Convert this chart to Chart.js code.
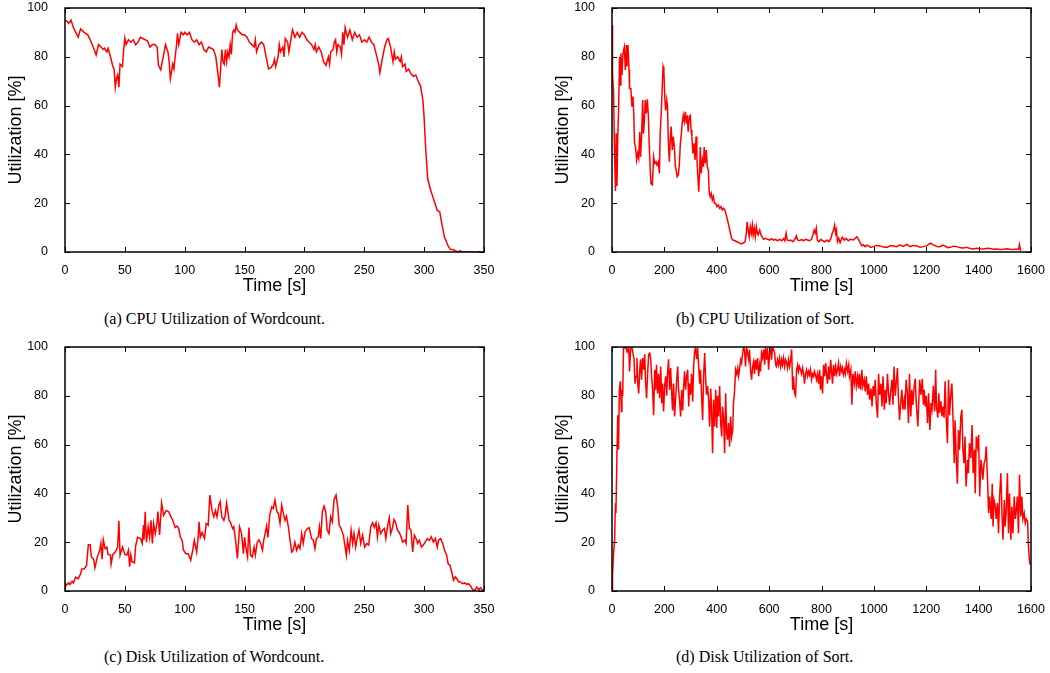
<!DOCTYPE html>
<html>
<head>
<meta charset="utf-8">
<script src="https://cdn.jsdelivr.net/npm/chart.js@4.4.0/dist/chart.umd.min.js"></script>
<style>
  body { margin: 0; background: #fff; width: 1050px; height: 673px; position: relative; overflow: hidden; }
  canvas { position: absolute; }
  .cap { position: absolute; font-family: "Liberation Serif", serif; font-size: 16px; color: #000; white-space: nowrap; }
</style>
</head>
<body>
<canvas id="cpuWc" width="500" height="300" style="left:0px;top:0px"></canvas>
<canvas id="cpuSort" width="503" height="300" style="left:547px;top:0px"></canvas>
<canvas id="diskWc" width="500" height="300" style="left:0px;top:339px"></canvas>
<canvas id="diskSort" width="503" height="300" style="left:547px;top:339px"></canvas>
<div class="cap" style="left:104px;top:310px">(a) CPU Utilization of Wordcount.</div>
<div class="cap" style="left:676px;top:310px">(b) CPU Utilization of Sort.</div>
<div class="cap" style="left:104px;top:648px">(c) Disk Utilization of Wordcount.</div>
<div class="cap" style="left:676px;top:648px">(d) Disk Utilization of Sort.</div>
<script>
// [time s, utilization %]
var wcCpu = [[0,95],[2,94.4],[3,93.7],[5,95],[7,92],[9,90],[11,88],[13,91.4],[16,90],[19,89],[21,87],[24,83.5],[26,80.7],[28,85],[30,84],[32,83],[33,83.5],[35,82],[36,83.5],[38,80],[40,76],[41,75],[42,67.5],[43,71],[44,72.5],[45,67.5],[46,77],[48,76],[49,83],[50,87.6],[51,85],[53,87],[55,86],[57,87],[59,85],[61,86],[63,88],[65,87.5],[67,87],[69,86.5],[71,84],[73,85],[75,85],[77,84],[78,76.6],[80,74.6],[82,80],[84,85],[86,82],[87,78],[88,71],[90,77],[91,75],[92,80],[93,84],[94,89.6],[95,85],[97,90],[99,89],[100,90],
  [102,89],[104,90],[106,87],[108,86],[110,87],[112,85],[114,86],[116,83],[118,82],[120,84],[122,83.5],[124,83],[126,80],[127,76],[128,72],[129,67.5],[130,75],[131,83],[132,78],[133,77],[134,83],[135,78],[136,82],[137,80],[138,85],[139,81],[140,90],[141,91],[142,90],[143,93],[144,91],[146,90],[148,89],[150,89],
  [152,88],[154,86],[156,85],[158,84],[159,87],[160,82],[162,85],[164,86],[166,85],[168,80],[170,75],[172,75.5],[174,77],[175,79],[176,76],[178,80],[179,85],[180,82],[182,84],[183,80],[184,87.5],[186,86],[187,82],[188,85],[190,91],[192,88],[194,90],[196,88],[198,90],[200,89],
  [202,87],[204,86],[206,85],[208,83],[209,85],[210,82],[212,84],[214,82],[216,78],[218,76.5],[220,80],[221,77],[222,82],[224,83],[225,86],[226,87],[227,82],[228,85],[230,84],[231,81],[232,90],[233,85],[234,92],[236,88],[238,91],[240,87],[242,90],[244,88],[246,89],[248,86],[250,87],
  [252,86],[254,88],[256,86],[258,85],[260,81],[262,77],[263,73.5],[265,79],[267,84],[269,87],[270,87.5],[272,84],[274,78],[275,82],[276,79],[278,80],[280,78],[281,80],[282,76],[284,77],[285,74],[287,75],[289,73],[291,72],[293,72.5],[295,70],[297,68],[299,62],[300,55],
  [301,45],[302,37],[303,30],[305,26],[307,23],[309,20],[311,17],[313,16.5],[315,11],[317,6],[318,5],[320,2.5],[322,1],[324,1],[326,0.5],[328,0],[330,0.5],[332,0],[340,0],[348,0]];

var sortCpu = [[0,93],[2,72.5],[6,66],[9,44.5],[13,25],[16,48.6],[19,27],[22,47],[25,58],[29,80],[32,68.4],[34,81.4],[38,72.5],[42,81.4],[47,84],[51,74.6],[55,84.8],[57,76],[61,84.8],[65,74.6],[67,67],[72,67],[76,59.6],[80,63.7],[83,57],[86,44.5],[90,43],[94,37.7],[98,40.4],[102,38.4],[106,49.3],[109,39],[113,47.3],[117,62.3],[120,48.6],[123,52.7],[127,62.3],[131,56.8],[135,62.6],[139,55.5],[142,44.5],[146,33.6],[149,28],[154,27.5],[159,39],[163,36.3],[168,37],[172,35.6],[177,37],[181,32.2],[184,48.6],[188,57],[192,67.8],[195,76],[198,74.6],
  [202,62.3],[205,58],[209,62.3],[212,59.6],[215,46],[219,37],[223,47.3],[226,51.4],[230,41.8],[234,47.3],[238,43],[242,35],[245,33.6],[249,30.9],[253,31.6],[257,35.6],[261,44.5],[265,48.6],[268,52.7],[272,56],[276,53.4],[280,57.5],[284,52.7],[287,56],[291,49.3],[295,55.5],[299,56],[302,50],[305,47.3],[309,40.4],[313,44.5],[317,37.7],[321,47.3],[324,39],[328,30.9],[331,24.7],[335,33.6],[337,43],[341,32.2],[345,37.7],[349,35],[352,43],[356,36.3],[360,41.8],[364,35],[368,33.6],[371,24.7],[375,22.7],[379,24],[383,21.3],[387,22.7],[391,20],[396,20],
  [401,18.6],[406,19.3],[411,17.9],[416,18.6],[421,17.2],[426,17.9],[431,17.2],[436,15.2],[441,13.1],[447,10.4],[452,7.7],[457,5.6],[462,4.9],[470,4.6],[477,4.2],[485,3.8],[492,3.3],[500,3.6],[508,4.2],[513,7.7],[516,12.4],[520,9],[524,6.3],[528,10.4],[532,7.7],[536,11],[539,7],[543,9.7],[547,6.3],[551,10.4],[555,7.7],[558,7],[564,9],[569,7],[574,6],[579,5.2],[586,5.6],[594,5.2],
  [602,4.9],[609,5.5],[617,4.9],[625,5.2],[632,4.6],[640,5.2],[648,4.6],[655,5.5],[660,4.6],[665,7.7],[669,4.9],[676,4.6],[683,4.9],[691,4.2],[698,5.2],[704,6.6],[709,4.9],[716,4.6],[724,5.2],[731,4.6],[739,5.2],[747,4.9],[754,4.6],[762,5.2],[767,7],[772,9],[776,7.7],[780,9.7],[784,4.9],[790,4.2],[798,5.2],
  [805,4.6],[813,4.2],[821,4.9],[828,4.2],[836,5.6],[841,7.7],[846,9],[850,11],[854,7.7],[857,9],[861,4.2],[866,5.6],[871,3.8],[879,6],[887,4.9],[894,5.6],[902,4.6],[910,5.2],[922,4.9],[935,6.3],[941,5.2],[948,3.8],[954,2.5],[960,3],[967,2.2],[974,2.8],[980,2.5],[988,1.9],[999,2.2],[1010,2.7],[1024,2.5],[1036,2],[1050,1.9],[1062,2.6],[1075,2.5],[1088,2.2],[1100,2.9],[1112,2.3],[1126,3.1],[1139,2.2],[1150,2.7],[1164,2.5],[1176,2.0],[1190,2.2],[1203,2.6],[1215,3.6],[1228,2.9],[1240,2.3],[1253,2.2],[1262,2.8],[1272,2.5],[1281,1.8],[1291,1.9],[1304,2.4],[1317,2.2],[1330,1.7],[1342,1.6],[1355,1.9],[1368,1.4],[1380,1.2],[1393,1.5],[1406,1.3],[1419,1.2],[1432,1.5],[1444,1.4],[1456,1.1],[1469,1.2],[1482,1.0],[1495,1.1],[1508,1.3],[1520,1.1],[1530,1.0],[1539,1.1],[1552,1.1],[1556,3.1],[1560,0.5]];

var wcDisk = [[0,3.7],[1,2.3],[3,3.3],[4,2.7],[6,4],[7,3.3],[9,5.7],[11,5],[13,7],[14,9],[16,9],[18,10.5],[19.5,19],[21,19],[22,14],[24,13],[25,9.5],[27,14],[29,16.7],[30,19.5],[31,13],[32,21],[33.5,17.4],[35,18],[36,15],[38,14.7],[38.5,11],[40,15],[42,16],[44,18],[45,28.8],[46,14.7],[48,18],[50,15],[51.7,14.7],[53,16.7],[54,10],[55,14.7],[56,12],[58,11.5],[59,18.4],[60.6,22],[63,21.5],[64.5,19.5],[65.6,27],[66,21],[67,32.5],[68,20],[69.5,26.3],[70.7,22],[71.8,29],[73,19.5],[74,27.7],[75.4,23.5],[76.8,27.7],[77.6,32.6],[79,23],[80.7,36],[82.4,31],[84.6,33],[86.6,32.5],[88.5,30.4],[90,29],[92,26],[93.6,26.6],[95,25.6],[96.4,22],[97.8,20.8],[99,16.7],
  [101,15.3],[103,15.3],[105,12.6],[106.7,16.7],[108,20.8],[110,16],[111,20.8],[112,28.4],[113,22],[114.5,24],[116.5,21.5],[118,27.7],[119.6,27],[121,39.3],[123,32.5],[124.3,30.4],[125.7,33],[127,30.4],[128.5,35.2],[129.6,36.6],[131,30.4],[132.7,29],[133.8,31],[135,36],[137,29],[138,28.4],[140,25.6],[141,26.3],[142.5,20.8],[144,13.3],[145.8,26.3],[147.5,23.5],[149,15.3],[150,22],[151,18],[152.5,14],[153.6,26],[155,14.7],[156.4,14],[158,18],[159,14.7],[160.6,20],[162,21],[163.4,19.5],[165,16.7],[166,20.8],[168.4,26.6],[169.5,22],[171,31],[172.7,34.5],[174,33.8],[175.4,37.3],[177,32.5],[178.2,31.8],[179.6,27.7],[181,35.2],[182.4,31.8],[183.8,29],[185,30.7],[186.6,26.3],[188,20.8],[189.4,16],[190.7,16.7],[192,20],[193.5,16.7],[195,18.8],[196.3,17.4],[197.7,23.5],[199,19.5],
  [200.5,24.2],[202.4,25.6],[204,26],[206,21.5],[207.5,20.8],[208.8,17.4],[210,21.5],[211.6,22.2],[212.5,26.3],[213.6,21.5],[215,32.5],[216.4,34.8],[217.8,32.5],[219,25],[220.5,23.5],[221.9,30.4],[223.3,28.4],[224.7,37.3],[226.4,39.3],[227.8,34.5],[229,27],[230.6,25.6],[232.5,22.9],[235,14.7],[236,20.8],[237.5,16.7],[239,25],[240.3,19.5],[241.4,23.5],[242.8,18],[244,21.5],[245.6,25],[247,19.5],[248.6,22.9],[250.3,18],[252,19.5],[253.7,18.8],[255.4,26.3],[257,28],[258.4,26],[259.8,28],[261,22.2],[262.1,27],[263.8,23.5],[265.4,25],[266.8,25.6],[268,21.5],[269.8,27.7],[270.9,30],[272,23.5],[273.4,25.6],[274.8,29.3],[276,28.4],[277.6,25],[279,24.2],[280.7,22.2],[282,20.1],[283.8,20.8],[284.9,19.5],[286.3,35.2],[287.7,25.6],[289,25],[290.4,16],[291.8,22.9],[293.2,21.5],[294.6,19.5],[296,20.8],[297.7,18],[299.3,18.8],
  [301,20.1],[302.7,21.5],[304.4,20.8],[306,22.2],[307.7,20.1],[309.4,21.5],[311,18],[312,20.8],[313.8,21.5],[315.5,19.5],[317,16.7],[318.8,14.7],[320,11.2],[321.6,10.5],[323,7.8],[324.5,4.4],[326,5.8],[327.3,5],[329,3.7],[330.5,3.7],[332,3],[333.9,3.3],[335.5,2.7],[337,3],[338.9,2],[340.6,0.5],[342.3,0.3],[343.9,1.6],[345.6,0.5],[347,1.4],[348.9,0.3]];

var sortDisk = [[0,0.4],[2,7],[6,15.5],[10,21],[13,36],[15,32],[19,56.5],[22,72],[25,58],[28,82.5],[32,86],[36,73.6],[38,82.5],[41,80],[44,100],[48,99.6],[53,100],[58,98],[64,100],[67,90],[71,99],[76,100],[80,97.5],[84,95],[88,85],[92,88],[95,95.5],[99,84],[102,81],[106,90.7],[109,95],[113,86.6],[117,95.5],[121,90.7],[125,97],[128,86],[132,79],[136,89],[140,97],[144,97.5],[148,95],[151,88],[155,82.5],[159,72],[163,90.7],[167,82.5],[170,92.7],[174,81],[178,89],[182,79],[186,92],[190,77],[193,85],[197,73.6],
  [201,84],[205,88],[209,80],[212,89],[216,95],[220,82.5],[224,91.4],[228,81],[231,74],[235,85],[239,71.5],[243,79],[247,86.6],[251,92],[254,82.5],[258,78.4],[262,71.5],[266,82.5],[270,74],[273,82.5],[277,90],[281,82.5],[285,88],[289,90.7],[293,75.6],[296,85],[300,80.4],[304,89],[308,77.7],[312,92.7],[315,97.5],[319,100],[323,95],[327,99.6],[331,92],[335,85],[338,90.7],[342,80],[346,70],[350,89],[354,97.5],[357,88],[361,80.4],[365,84],[369,78.4],[373,67.4],[377,83],[380,75.6],[384,56.5],[388,78.4],[392,67.4],[396,82.5],
  [400,66.8],[403,80],[407,71.5],[411,84],[415,68.8],[419,63.3],[422,75.6],[426,71.5],[430,56.5],[434,81],[438,64.7],[441,62],[445,68.8],[449,59.2],[453,71.5],[457,63.3],[461,66],[464,77],[468,81.8],[472,90.7],[476,89],[480,91.4],[483,88],[487,90.7],[491,94.8],[495,93.4],[499,97.5],[502,100],[506,99],[510,92],[514,100],[518,97.5],[522,94.8],[525,99],[529,90.7],[533,86.6],[537,92],[541,94],[544,89],[548,94.8],[552,90.7],[556,95.5],[560,88],[564,92.7],[567,90],[571,97.5],[575,95.5],[579,99],[583,92.7],[586,100],[590,94.8],[594,99.6],[598,90.7],
  [602,97.5],[606,100],[609,94.8],[613,100],[617,99],[621,97.5],[625,92.7],[628,92],[632,94.8],[636,92.7],[640,95.5],[644,92],[648,94.8],[651,92.7],[655,95.5],[659,92],[663,94.8],[667,93.4],[670,91.4],[674,94.8],[678,92],[682,94.8],[686,99],[690,82.5],[693,88],[697,81],[701,80],[705,90.7],[709,92.7],[712,90],[716,92],[720,90.7],[724,89],[728,91.4],[732,88.6],[735,85],[739,89],[743,90.7],[747,88],[751,90],[754,88.6],[758,90.7],[762,86.6],[766,89],[770,88],[773,90],[777,88.6],[781,86.6],[785,89],[789,85],[793,90.7],[796,82.5],
  [800,88],[804,81],[808,92.7],[812,88],[816,93.4],[819,89],[823,85],[827,92],[831,86.6],[835,94.8],[838,90.7],[842,85],[846,92.7],[850,88],[854,92],[858,89],[861,90.7],[865,93.4],[869,88],[873,92],[877,90],[880,91.4],[884,88.6],[888,90.7],[891,89],[895,93.4],[900,90],[904,92.7],[907,88],[912,90.7],[916,76.3],[920,89],[925,85],[929,90],[933,84],[938,88],[942,83],[945,89],[950,82.5],[954,90.7],[958,84],[963,86.6],[967,81.8],[971,88],[976,80.4],[980,85],[984,78.4],[989,83],[993,75.6],[997,84],
  [1001,80],[1005,86.6],[1009,77],[1014,71],[1018,89],[1022,80.4],[1027,85],[1031,75.6],[1035,88],[1040,74.3],[1044,82.5],[1047,77],[1052,89],[1056,81],[1060,76.3],[1065,82.5],[1069,86.6],[1073,76.3],[1077,92],[1082,80],[1085,84.5],[1090,91.4],[1094,78.4],[1098,70],[1103,77.7],[1107,82.5],[1111,74.3],[1116,78.4],[1119,74.3],[1123,86.6],[1128,81],[1132,68.8],[1136,89],[1141,71.5],[1145,82.5],[1149,76.3],[1154,84],[1158,87],[1162,77],[1168,67.4],[1172,79],[1175,86.6],[1180,80.4],[1185,87],[1189,76.3],[1192,82.5],[1196,75.6],
  [1200,80],[1205,68.8],[1209,81],[1214,66],[1218,77],[1222,74.3],[1227,84],[1232,73.6],[1236,90.7],[1239,75.6],[1244,71],[1248,81],[1251,73],[1256,77.7],[1260,71.5],[1264,75.6],[1268,71],[1272,86],[1276,71.5],[1281,60.6],[1285,86.6],[1289,72],[1294,81],[1298,85],[1302,71.5],[1307,52.4],[1310,70],[1314,55.8],[1319,44],[1323,66],[1327,57.9],[1332,71.5],[1336,74.3],[1340,57.9],[1344,52.4],[1348,63.3],[1352,42.8],[1358,53.8],[1361,48.3],[1365,60.6],[1370,54.4],[1375,68],[1379,48.3],[1384,57.9],[1387,40],[1391,63.3],[1396,59.2],
  [1400,64],[1404,38.7],[1409,53.8],[1412,51],[1416,45.6],[1421,52.4],[1425,53.8],[1429,59.2],[1434,45.6],[1438,31.9],[1442,38.7],[1448,29.5],[1452,44],[1455,26.4],[1459,37.3],[1464,34.6],[1467,29.5],[1472,36],[1476,23.7],[1480,38.7],[1485,48.3],[1489,31.9],[1493,21],[1498,37.3],[1501,26.4],[1505,31.9],[1510,48.3],[1514,23.7],[1518,40],[1523,21],[1527,34.6],[1531,23.7],[1536,38.7],[1540,29.5],[1543,31.9],[1548,38.7],[1552,23.7],[1556,47.6],[1561,30.5],[1565,38.7],[1569,29.5],[1574,31.9],[1578,27.8],[1582,29.5],[1587,28.5],[1590,19],[1594,12.7],[1597,10.7]];

var utilTicks = [0, 20, 40, 60, 80, 100];

// gnuplot-like frame: full box with inward ticks on all four sides
var frameTicks = {
    id: 'frameTicks',
    afterDraw: function(chart) {
        var ctx = chart.ctx;
        var a = chart.chartArea;
        var xs = chart.scales.x, ys = chart.scales.y;
        ctx.save();
        ctx.strokeStyle = '#000';
        ctx.lineWidth = 1;
        ctx.beginPath();
        for (var i = 0; i < xs.ticks.length; i++) {
            var px = Math.round(xs.getPixelForValue(xs.ticks[i].value)) + 0.5;
            ctx.moveTo(px, a.bottom); ctx.lineTo(px, a.bottom - 5);
            ctx.moveTo(px, a.top); ctx.lineTo(px, a.top + 5);
        }
        for (var j = 0; j < ys.ticks.length; j++) {
            var py = Math.round(ys.getPixelForValue(ys.ticks[j].value)) + 0.5;
            ctx.moveTo(a.left, py); ctx.lineTo(a.left + 5, py);
            ctx.moveTo(a.right, py); ctx.lineTo(a.right - 5, py);
        }
        ctx.stroke();
        ctx.lineWidth = 1.5;
        ctx.strokeRect(a.left, a.top, a.right - a.left, a.bottom - a.top);
        ctx.restore();
    }
};

function plainNumber(v) { return String(v); }

function makeChart(id, points, xMax, xStep, rightPad) {
    var tickFont = { family: 'Liberation Sans', size: 12.5 };
    var titleFont = { family: 'Liberation Sans', size: 18 };
    return new Chart(document.getElementById(id).getContext('2d'), {
        type: 'line',
        data: {
            datasets: [{
                data: points.map(function(p) { return { x: p[0], y: p[1] }; }),
                borderColor: '#ff0000',
                borderWidth: 1.5,
                pointRadius: 0,
                tension: 0,
                fill: false
            }]
        },
        options: {
            responsive: false,
            animation: false,
            devicePixelRatio: 1,
            layout: { padding: { left: 0, top: 8, right: rightPad, bottom: 0 } },
            plugins: { legend: { display: false }, tooltip: { enabled: false } },
            scales: {
                x: {
                    type: 'linear', min: 0, max: xMax,
                    grid: { display: false },
                    border: { display: false },
                    ticks: { stepSize: xStep, padding: 3, color: '#000', font: tickFont, maxRotation: 0, autoSkip: false, callback: plainNumber },
                    title: { display: true, text: 'Time [s]', color: '#000', font: titleFont, padding: { top: 0, bottom: 3 } },
                    afterFit: function(s) { s.height = 48; s.paddingLeft = 0; s.paddingRight = 0; }
                },
                y: {
                    type: 'linear', min: 0, max: 100,
                    grid: { display: false },
                    border: { display: false },
                    afterBuildTicks: function(s) { s.ticks = utilTicks.map(function(v) { return { value: v }; }); },
                    ticks: { padding: 9, color: '#000', font: tickFont, callback: plainNumber },
                    title: { display: true, text: 'Utilization [%]', color: '#000', font: titleFont, padding: { top: 5, bottom: 0 } },
                    afterFit: function(s) { s.width = 65; s.paddingTop = 0; s.paddingBottom = 0; }
                }
            }
        },
        plugins: [frameTicks]
    });
}

makeChart('cpuWc', wcCpu, 350, 50, 16);
makeChart('cpuSort', sortCpu, 1600, 200, 19);
makeChart('diskWc', wcDisk, 350, 50, 16);
makeChart('diskSort', sortDisk, 1600, 200, 19);
</script>
</body>
</html>
